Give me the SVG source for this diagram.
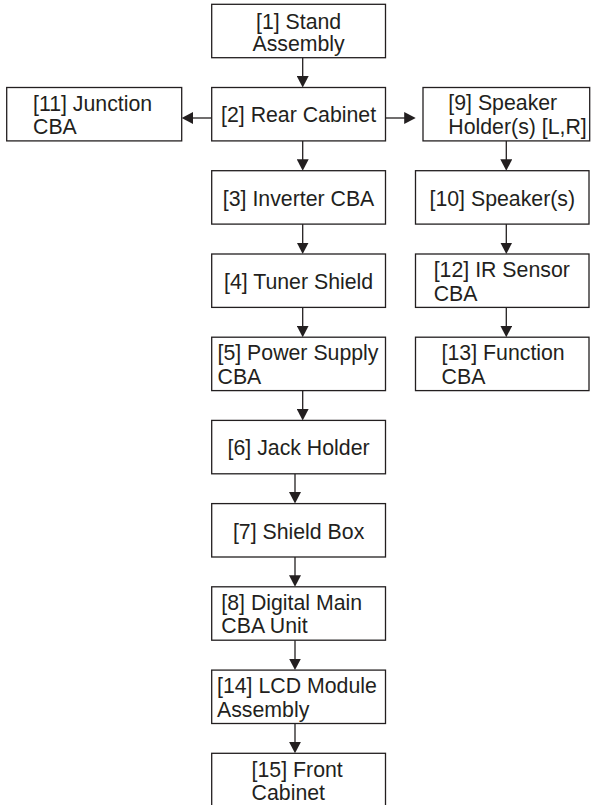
<svg xmlns="http://www.w3.org/2000/svg" width="593" height="805" viewBox="0 0 593 805">
<defs>
<style>
.box{fill:#fff;stroke:#231f20;stroke-width:1.3}
.c{stroke:#231f20;stroke-width:1.3;fill:none;marker-end:url(#ah)}
text{font-family:"Liberation Sans",Arial,sans-serif;font-size:21.3px;fill:#231f20}
.m{text-anchor:middle}
</style>
<marker id="ah" markerUnits="userSpaceOnUse" markerWidth="12" markerHeight="12" viewBox="0 0 12 12" refX="6.5" refY="6" orient="auto">
<path d="M0,0 L11.5,6 L0,12 Z" fill="#231f20"/>
</marker>
</defs>
<rect width="593" height="805" fill="#fff"/>
<g id="connectors">
<line class="c" x1="302.7" y1="57.7" x2="302.7" y2="82.5"/>
<line class="c" x1="302.7" y1="140.9" x2="302.7" y2="165.7"/>
<line class="c" x1="302.7" y1="224.1" x2="302.7" y2="249"/>
<line class="c" x1="302.7" y1="307.4" x2="302.7" y2="332.2"/>
<line class="c" x1="302.7" y1="390.6" x2="302.7" y2="415.4"/>
<line class="c" x1="295" y1="473.8" x2="295" y2="498.6"/>
<line class="c" x1="295" y1="557" x2="295" y2="581.8"/>
<line class="c" x1="295" y1="640.2" x2="295" y2="665.1"/>
<line class="c" x1="295" y1="723.5" x2="295" y2="748.3"/>
<line class="c" x1="211.7" y1="118" x2="186.7" y2="118"/>
<line class="c" x1="385.5" y1="118" x2="410.7" y2="118"/>
<line class="c" x1="506.3" y1="140.9" x2="506.3" y2="165.7"/>
<line class="c" x1="506.3" y1="224.1" x2="506.3" y2="249"/>
<line class="c" x1="506.3" y1="307.4" x2="506.3" y2="332.2"/>
</g>
<g id="n1"><rect class="box" x="211.7" y="4.3" width="173.8" height="53.4"/><text class="m" x="298.6" y="28.5">[1] Stand</text><text class="m" x="298.6" y="50.5">Assembly</text></g>
<g id="n2"><rect class="box" x="211.7" y="87.5" width="173.8" height="53.4"/><text class="m" x="298.6" y="122">[2] Rear Cabinet</text></g>
<g id="n11"><rect class="box" x="6.7" y="87.5" width="175" height="53.4"/><text x="33" y="110.5">[11] Junction</text><text x="33" y="134">CBA</text></g>
<g id="n9"><rect class="box" x="423" y="87.5" width="166.7" height="53.4"/><text x="448.3" y="110">[9] Speaker</text><text x="448.3" y="134">Holder(s) [L,R]</text></g>
<g id="n3"><rect class="box" x="211.7" y="170.7" width="173.8" height="53.4"/><text class="m" x="298.6" y="205.7">[3] Inverter CBA</text></g>
<g id="n10"><rect class="box" x="415.5" y="170.7" width="173.5" height="53.4"/><text class="m" x="502.3" y="205.7">[10] Speaker(s)</text></g>
<g id="n4"><rect class="box" x="211.7" y="254" width="173.8" height="53.4"/><text class="m" x="298.6" y="289">[4] Tuner Shield</text></g>
<g id="n12"><rect class="box" x="415.5" y="254" width="173.5" height="53.4"/><text x="433.7" y="277">[12] IR Sensor</text><text x="433.7" y="300.5">CBA</text></g>
<g id="n5"><rect class="box" x="211.7" y="337.2" width="173.8" height="53.4"/><text x="217.5" y="360.2">[5] Power Supply</text><text x="217.5" y="383.7">CBA</text></g>
<g id="n13"><rect class="box" x="415.5" y="337.2" width="173.5" height="53.4"/><text x="441.6" y="360.2">[13] Function</text><text x="441.6" y="383.7">CBA</text></g>
<g id="n6"><rect class="box" x="211.7" y="420.4" width="173.8" height="53.4"/><text class="m" x="298.6" y="455.4">[6] Jack Holder</text></g>
<g id="n7"><rect class="box" x="211.7" y="503.6" width="173.8" height="53.4"/><text class="m" x="298.6" y="538.6">[7] Shield Box</text></g>
<g id="n8"><rect class="box" x="211.7" y="586.8" width="173.8" height="53.4"/><text x="221.3" y="609.8">[8] Digital Main</text><text x="221.3" y="633.3">CBA Unit</text></g>
<g id="n14"><rect class="box" x="211.7" y="670.1" width="173.8" height="53.4"/><text x="217" y="693.1">[14] LCD Module</text><text x="217" y="716.6">Assembly</text></g>
<g id="n15"><rect class="box" x="211.7" y="753.3" width="173.8" height="53.4"/><text x="251.6" y="776.6">[15] Front</text><text x="251.6" y="800">Cabinet</text></g>
</svg>
